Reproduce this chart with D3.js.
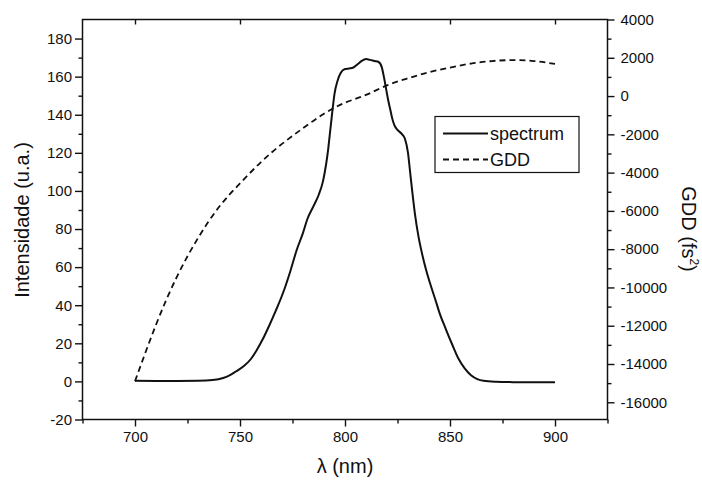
<!DOCTYPE html>
<html>
<head>
<meta charset="utf-8">
<script src="https://cdn.jsdelivr.net/npm/d3@7/dist/d3.min.js"></script>
<style>
  html, body { margin: 0; padding: 0; background: #fff; }
  svg { display: block; font-family: "Liberation Sans", Arial, sans-serif; }
</style>
</head>
<body>
<svg id="chart" width="702" height="481"></svg>
<script>
// Laser spectrum (left axis) and group delay dispersion (right axis) versus wavelength.
const spectrumWavelength = [700, 710, 720, 730, 737, 742, 745, 748, 752, 755, 758, 761, 764, 767, 771, 774, 777, 780, 782, 785, 787.5, 789.5, 791, 792, 793, 794, 795, 796.5, 798, 800, 802, 804, 806, 808, 810, 812, 814, 816, 817.5, 818.5, 819.5, 820.5, 821.5, 822.5, 823.5, 825, 827, 828.5, 830, 831, 832, 833.3, 835, 836.5, 838.5, 840.5, 843, 845, 848, 851, 854, 857, 860, 863, 866, 872, 880, 890, 900];
const spectrumIntensity  = [0.3, 0.2, 0.2, 0.3, 0.7, 1.8, 3.2, 5.2, 8.2, 11.5, 16.5, 22.5, 29.5, 37, 48, 58, 69, 78, 85, 92, 98, 105, 114, 122, 132, 142, 151, 158, 162, 164, 164.3, 164.8, 166.5, 168.3, 169.2, 168.8, 168.2, 167.7, 165, 160, 154, 148, 143, 138, 134.5, 132, 130, 127.5, 120, 110, 100, 88, 76, 68, 59, 51.5, 43, 36, 27.5, 19.5, 12, 6.8, 3.2, 1.2, 0.3, -0.2, -0.4, -0.5, -0.5];

const gddWavelength = [700, 710, 720, 730, 740, 750, 760, 770, 780, 790, 800, 810, 820, 830, 840, 850, 860, 870, 880, 890, 900];
const gddValue      = [-14900, -11950, -9430, -7420, -5800, -4560, -3450, -2500, -1680, -920, -350, 60, 560, 930, 1250, 1490, 1700, 1830, 1880, 1830, 1680];

const xMajorTicks = [700, 750, 800, 850, 900];
const xMinorTicks = [675, 725, 775, 825, 875, 925];
const yLeftMajorTicks = [-20, 0, 20, 40, 60, 80, 100, 120, 140, 160, 180];
const yLeftMinorTicks = [-10, 10, 30, 50, 70, 90, 110, 130, 150, 170];
const yRightMajorTicks = [-16000, -14000, -12000, -10000, -8000, -6000, -4000, -2000, 0, 2000, 4000];
const yRightMinorTicks = [-15000, -13000, -11000, -9000, -7000, -5000, -3000, -1000, 1000, 3000];

const seriesNames = ["spectrum", "GDD"];

const plotLeft = 82.5, plotRight = 607.5, plotTop = 19.5, plotBottom = 419.5;

const x = d3.scaleLinear().domain([675, 925]).range([plotLeft, plotRight]);
const yL = d3.scaleLinear().domain([-20, 190]).range([plotBottom, plotTop]);
const yR = d3.scaleLinear().domain([-16900, 4000]).range([plotBottom, plotTop]);

const svg = d3.select("#chart");
const fmt = d => String(d);

function styleAxis(g) {
  g.select(".domain").remove();
  g.selectAll(".tick line").attr("stroke", "#111").attr("stroke-width", 1.4);
  g.selectAll(".tick text").attr("fill", "#111").attr("font-size", 15)
    .attr("font-family", "Liberation Sans, Arial, sans-serif");
}

// bottom axis
svg.append("g").attr("transform", `translate(0,${plotBottom})`)
  .call(d3.axisBottom(x).tickValues(xMinorTicks).tickSize(4).tickFormat(""))
  .call(styleAxis);
svg.append("g").attr("transform", `translate(0,${plotBottom})`)
  .call(d3.axisBottom(x).tickValues(xMajorTicks).tickSize(7).tickPadding(5).tickFormat(fmt))
  .call(styleAxis);

// top axis: inward marks only
svg.append("g").attr("transform", `translate(0,${plotTop})`)
  .call(d3.axisBottom(x).tickValues(xMajorTicks).tickSize(5).tickFormat(""))
  .call(styleAxis);

// left axis
svg.append("g").attr("transform", `translate(${plotLeft},0)`)
  .call(d3.axisLeft(yL).tickValues(yLeftMinorTicks).tickSize(4).tickFormat(""))
  .call(styleAxis);
svg.append("g").attr("transform", `translate(${plotLeft},0)`)
  .call(d3.axisLeft(yL).tickValues(yLeftMajorTicks).tickSize(7.5).tickPadding(3).tickFormat(fmt))
  .call(styleAxis);

// right axis
svg.append("g").attr("transform", `translate(${plotRight},0)`)
  .call(d3.axisRight(yR).tickValues(yRightMinorTicks).tickSize(4).tickFormat(""))
  .call(styleAxis);
svg.append("g").attr("transform", `translate(${plotRight},0)`)
  .call(d3.axisRight(yR).tickValues(yRightMajorTicks).tickSize(7).tickPadding(6).tickFormat(fmt))
  .call(styleAxis);

// frame
svg.append("rect")
  .attr("x", plotLeft).attr("y", plotTop)
  .attr("width", plotRight - plotLeft).attr("height", plotBottom - plotTop)
  .attr("fill", "none").attr("stroke", "#111").attr("stroke-width", 1.5);

// series
const spectrumData = spectrumWavelength.map((w, i) => [w, spectrumIntensity[i]]);
const gddData = gddWavelength.map((w, i) => [w, gddValue[i]]);

svg.append("path")
  .datum(spectrumData)
  .attr("fill", "none").attr("stroke", "#111").attr("stroke-width", 2)
  .attr("stroke-linejoin", "round")
  .attr("d", d3.line().x(d => x(d[0])).y(d => yL(d[1])).curve(d3.curveMonotoneX));

svg.append("path")
  .datum(gddData)
  .attr("fill", "none").attr("stroke", "#111").attr("stroke-width", 1.8)
  .attr("stroke-dasharray", "6,4")
  .attr("d", d3.line().x(d => x(d[0])).y(d => yR(d[1])).curve(d3.curveNatural));

// axis titles
svg.append("text")
  .attr("transform", `translate(29,220) rotate(-90)`)
  .attr("text-anchor", "middle").attr("font-size", 20).attr("fill", "#111")
  .text("Intensidade (u.a.)");

svg.append("text")
  .attr("x", 345).attr("y", 473)
  .attr("text-anchor", "middle").attr("font-size", 20).attr("fill", "#111")
  .text("λ (nm)");

const rt = svg.append("text")
  .attr("transform", `translate(682,229) rotate(90)`)
  .attr("text-anchor", "middle").attr("font-size", 20).attr("fill", "#111");
rt.append("tspan").text("GDD (fs");
rt.append("tspan").attr("font-size", 12).attr("dy", -8).text("2");
rt.append("tspan").attr("dy", 8).text(")");

// legend
const lg = svg.append("g");
lg.append("rect")
  .attr("x", 435).attr("y", 116.5).attr("width", 144).attr("height", 56)
  .attr("fill", "#fff").attr("stroke", "#111").attr("stroke-width", 1.2);
lg.append("line").attr("x1", 443).attr("x2", 488).attr("y1", 133.5).attr("y2", 133.5)
  .attr("stroke", "#111").attr("stroke-width", 2);
lg.append("line").attr("x1", 443).attr("x2", 488).attr("y1", 159.5).attr("y2", 159.5)
  .attr("stroke", "#111").attr("stroke-width", 1.8).attr("stroke-dasharray", "6,4");
lg.append("text").attr("x", 490).attr("y", 139.5).attr("font-size", 18).attr("fill", "#111").text(seriesNames[0]);
lg.append("text").attr("x", 490).attr("y", 165.5).attr("font-size", 18).attr("fill", "#111").text(seriesNames[1]);
</script>
</body>
</html>
